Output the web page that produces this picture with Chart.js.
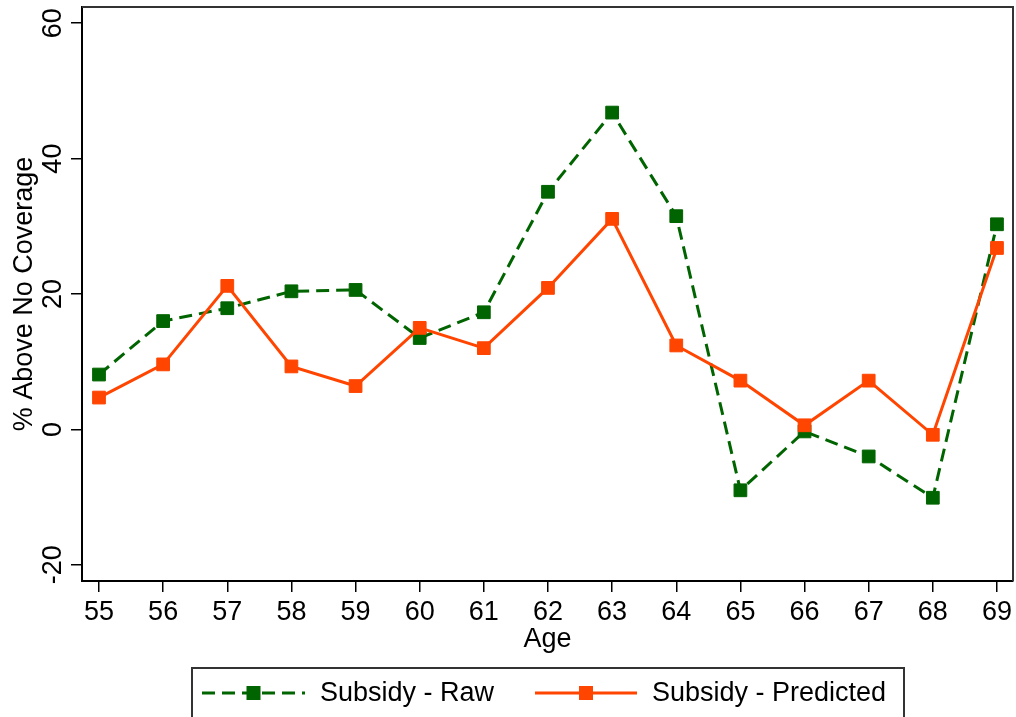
<!DOCTYPE html>
<html>
<head>
<meta charset="utf-8">
<script src="https://cdn.jsdelivr.net/npm/chart.js@4.4.0/dist/chart.umd.min.js"></script>
<style>
  html, body { margin: 0; padding: 0; background: #fff; }
</style>
</head>
<body>
<canvas id="grafico" width="1016" height="717"></canvas>
<script>
// valores
const ages = [55, 56, 57, 58, 59, 60, 61, 62, 63, 64, 65, 66, 67, 68, 69];
const subsidyRaw = [8.1, 16.0, 17.9, 20.4, 20.6, 13.5, 17.3, 35.1, 46.8, 31.5, -9.0, -0.3, -4.0, -10.1, 30.3];
const subsidyPredicted = [4.7, 9.6, 21.2, 9.3, 6.4, 15.0, 12.0, 20.9, 31.1, 12.4, 7.2, 0.6, 7.2, -0.8, 26.8];
const yTicks = [-20, 0, 20, 40, 60];
const seriesNames = ['Subsidy - Raw', 'Subsidy - Predicted'];
const xTitle = 'Age';
const yTitle = '% Above No Coverage';

const FONT = '"Liberation Sans", Arial, sans-serif';
const verde = '#006400';
const naranja = '#FF4500';
const rayas = [13, 7];

// dibuja marco, etiquetas del eje y, titulos y leyenda
const decor = {
  id: 'decor',
  afterDraw(chart) {
    const ctx = chart.ctx;
    const area = chart.chartArea;
    const y = chart.scales.y;
    ctx.save();

    // marco superior y derecho
    ctx.strokeStyle = '#333';
    ctx.lineWidth = 2;
    ctx.beginPath();
    ctx.moveTo(area.left, area.top);
    ctx.lineTo(area.right, area.top);
    ctx.lineTo(area.right, area.bottom);
    ctx.stroke();

    ctx.fillStyle = '#000';
    ctx.font = '27px ' + FONT;

    // etiquetas del eje y giradas
    y.ticks.forEach(t => {
      const py = y.getPixelForValue(t.value);
      ctx.save();
      ctx.translate(61, py);
      ctx.rotate(-Math.PI / 2);
      ctx.textAlign = 'center';
      ctx.textBaseline = 'alphabetic';
      ctx.fillText(String(t.value), 0, 0);
      ctx.restore();
    });

    // titulo eje y
    ctx.save();
    ctx.translate(32, (area.top + area.bottom) / 2);
    ctx.rotate(-Math.PI / 2);
    ctx.textAlign = 'center';
    ctx.textBaseline = 'alphabetic';
    ctx.fillText(yTitle, 0, 0);
    ctx.restore();

    // titulo eje x
    ctx.textAlign = 'center';
    ctx.textBaseline = 'alphabetic';
    ctx.fillText(xTitle, (area.left + area.right) / 2, 647);

    // leyenda
    ctx.strokeStyle = '#333';
    ctx.lineWidth = 2;
    ctx.strokeRect(192, 668, 712, 60);

    const entradas = [
      { x0: 202, x1: 305, texto: seriesNames[0], color: verde, dash: rayas },
      { x0: 535, x1: 637, texto: seriesNames[1], color: naranja, dash: [] }
    ];
    const ly = 693;
    entradas.forEach(e => {
      ctx.strokeStyle = e.color;
      ctx.lineWidth = 3;
      ctx.setLineDash(e.dash);
      ctx.beginPath();
      ctx.moveTo(e.x0, ly);
      ctx.lineTo(e.x1, ly);
      ctx.stroke();
      ctx.setLineDash([]);
      const mx = (e.x0 + e.x1) / 2;
      ctx.fillStyle = e.color;
      ctx.fillRect(mx - 7, ly - 7, 14, 14);
      ctx.fillStyle = '#000';
      ctx.textAlign = 'left';
      ctx.textBaseline = 'middle';
      ctx.fillText(e.texto, e.x1 + 15, ly + 1);
    });

    ctx.restore();
  }
};

const ctx = document.getElementById('grafico').getContext('2d');
new Chart(ctx, {
  type: 'line',
  data: {
    datasets: [
      {
        label: seriesNames[0],
        data: ages.map((a, i) => ({ x: a, y: subsidyRaw[i] })),
        borderColor: verde,
        backgroundColor: verde,
        borderWidth: 3,
        borderDash: rayas,
        pointStyle: 'rect',
        pointRadius: 9,
        pointBorderWidth: 1,
        pointBackgroundColor: verde,
        pointBorderColor: verde,
        fill: false,
        order: 1
      },
      {
        label: seriesNames[1],
        data: ages.map((a, i) => ({ x: a, y: subsidyPredicted[i] })),
        borderColor: naranja,
        backgroundColor: naranja,
        borderWidth: 3,
        pointStyle: 'rect',
        pointRadius: 9,
        pointBorderWidth: 1,
        pointBackgroundColor: naranja,
        pointBorderColor: naranja,
        fill: false,
        order: 0
      }
    ]
  },
  options: {
    responsive: false,
    animation: false,
    layout: { autoPadding: false, padding: { top: 7, right: 3, left: 0, bottom: 0 } },
    plugins: {
      legend: { display: false },
      tooltip: { enabled: false }
    },
    scales: {
      x: {
        type: 'linear',
        min: 54.735,
        max: 69.25,
        afterBuildTicks: s => { s.ticks = ages.map(v => ({ value: v })); },
        afterFit: s => { s.height = 136; s.paddingLeft = 0; s.paddingRight = 0; },
        grid: { drawOnChartArea: false, drawTicks: true, tickLength: 11, color: '#000', lineWidth: 1.5 },
        border: { display: true, color: '#000', width: 2 },
        ticks: {
          color: '#000',
          font: { family: FONT, size: 27 },
          padding: 4,
          maxRotation: 0,
          callback: v => String(v)
        }
      },
      y: {
        min: -22.4,
        max: 62.4,
        afterBuildTicks: s => { s.ticks = yTicks.map(v => ({ value: v })); },
        afterFit: s => { s.width = 82; s.paddingTop = 0; s.paddingBottom = 0; },
        grid: { drawOnChartArea: false, drawTicks: true, tickLength: 11, color: '#000', lineWidth: 1.5 },
        border: { display: true, color: '#000', width: 2 },
        ticks: { display: false }
      }
    }
  },
  plugins: [decor]
});
</script>
</body>
</html>
